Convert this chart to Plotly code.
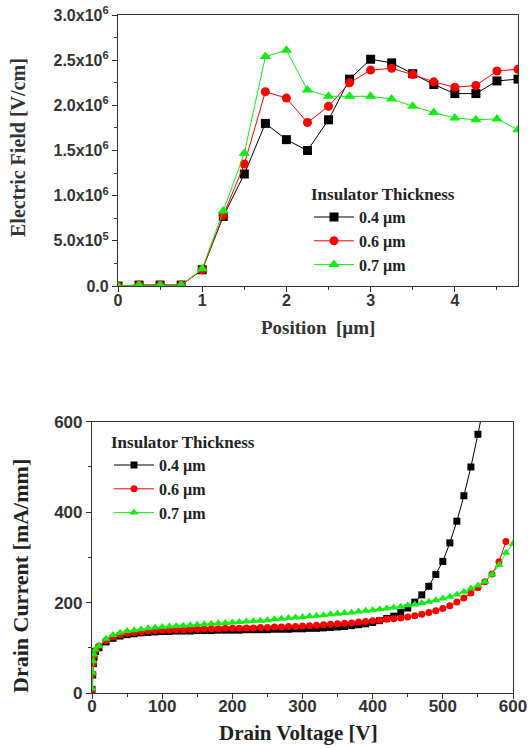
import plotly.graph_objects as go

# ---------------- Top chart data: Electric field vs position ----------------
position = [0, 0.25, 0.5, 0.75, 1.0, 1.25, 1.5, 1.75, 2.0, 2.25, 2.5, 2.75,
            3.0, 3.25, 3.5, 3.75, 4.0, 4.25, 4.5, 4.75]
field_04 = [0.0, 0.01e6, 0.01e6, 0.01e6, 0.18e6, 0.77e6, 1.24e6, 1.80e6, 1.62e6, 1.50e6,
            1.84e6, 2.29e6, 2.51e6, 2.47e6, 2.35e6, 2.23e6, 2.13e6, 2.13e6, 2.27e6, 2.29e6]
field_06 = [0.0, 0.01e6, 0.01e6, 0.01e6, 0.18e6, 0.78e6, 1.35e6, 2.15e6, 2.08e6, 1.81e6,
            1.99e6, 2.25e6, 2.39e6, 2.41e6, 2.34e6, 2.26e6, 2.20e6, 2.22e6, 2.38e6, 2.40e6]
field_07 = [0.0, 0.01e6, 0.01e6, 0.01e6, 0.19e6, 0.83e6, 1.47e6, 2.54e6, 2.61e6, 2.17e6,
            2.10e6, 2.10e6, 2.10e6, 2.07e6, 1.99e6, 1.92e6, 1.86e6, 1.84e6, 1.85e6, 1.73e6]
top_x_ticks = [0, 1, 2, 3, 4]
top_y_tickvals = [0, 0.5e6, 1.0e6, 1.5e6, 2.0e6, 2.5e6, 3.0e6]
top_y_ticktext = ["0.0", "5.0x10<sup>5</sup>", "1.0x10<sup>6</sup>", "1.5x10<sup>6</sup>",
                  "2.0x10<sup>6</sup>", "2.5x10<sup>6</sup>", "3.0x10<sup>6</sup>"]

# ---------------- Bottom chart data: Drain current vs drain voltage ----------------
v_04 = [0, 1, 2, 3, 5, 10, 20, 30, 40, 50, 60, 70, 80, 90, 100, 110, 120, 130, 140, 150,
        160, 170, 180, 190, 200, 210, 220, 230, 240, 250, 260, 270, 280, 290, 300, 310,
        320, 330, 340, 350, 360, 370, 380, 390, 400, 410, 420, 430, 440, 450, 460, 470,
        480, 490, 500, 510, 520, 530, 540, 550, 560]
i_04 = [8, 40, 65, 80, 92, 100, 113, 121, 126, 129, 131, 133, 134, 135, 136, 136, 137, 137,
        137, 138, 138, 138, 139, 139, 139, 139, 140, 140, 140, 140, 141, 141, 141, 142, 142,
        143, 143, 144, 145, 146, 147, 149, 151, 153, 156, 160, 165, 170, 178, 188, 201, 217,
        236, 262, 291, 332, 380, 436, 500, 572, 650]
v_06 = [0, 1, 2, 3, 5, 10, 20, 30, 40, 50, 60, 70, 80, 90, 100, 110, 120, 130, 140, 150,
        160, 170, 180, 190, 200, 210, 220, 230, 240, 250, 260, 270, 280, 290, 300, 310,
        320, 330, 340, 350, 360, 370, 380, 390, 400, 410, 420, 430, 440, 450, 460, 470,
        480, 490, 500, 510, 520, 530, 540, 550, 560, 570, 580, 590]
i_06 = [8, 42, 66, 82, 94, 104, 116, 124, 129, 132, 134, 136, 137, 138, 139, 139, 140, 140,
        141, 141, 142, 142, 142, 143, 143, 143, 144, 144, 145, 145, 146, 146, 147, 147, 148,
        149, 150, 151, 152, 153, 154, 155, 157, 158, 160, 161, 163, 164, 166, 168, 171, 174,
        178, 182, 187, 193, 201, 210, 221, 233, 246, 263, 290, 335]
v_07 = [0, 1, 2, 3, 5, 10, 20, 30, 40, 50, 60, 70, 80, 90, 100, 110, 120, 130, 140, 150,
        160, 170, 180, 190, 200, 210, 220, 230, 240, 250, 260, 270, 280, 290, 300, 310,
        320, 330, 340, 350, 360, 370, 380, 390, 400, 410, 420, 430, 440, 450, 460, 470,
        480, 490, 500, 510, 520, 530, 540, 550, 560, 570, 580, 590, 600]
i_07 = [10, 45, 70, 85, 96, 104, 120, 128, 133, 137, 139, 141, 143, 145, 146, 147, 148, 149,
        150, 151, 152, 153, 154, 155, 156, 157, 158, 159, 160, 161, 163, 164, 166, 167, 168,
        170, 171, 172, 174, 175, 177, 178, 180, 182, 183, 185, 187, 189, 191, 194, 196, 199,
        202, 205, 209, 213, 218, 224, 231, 238, 246, 262, 283, 310, 330]
bot_x_ticks = [0, 100, 200, 300, 400, 500, 600]
bot_y_ticks = [0, 200, 400, 600]

labels = ["0.4 \u00b5m", "0.6 \u00b5m", "0.7 \u00b5m"]
colors = ["#000000", "#ff0000", "#11ee11"]
symbols = ["square", "circle", "triangle-up"]

fig = go.Figure()

top_series = [field_04, field_06, field_07]
for k in range(3):
    fig.add_trace(go.Scatter(
        x=position, y=top_series[k], mode="lines+markers", name=labels[k],
        line=dict(color=colors[k], width=1),
        marker=dict(symbol=symbols[k], size=10 if k == 2 else 9, color=colors[k]),
        xaxis="x", yaxis="y", legend="legend"))

bot_x = [v_04, v_06, v_07]
bot_y = [i_04, i_06, i_07]
for k in range(3):
    fig.add_trace(go.Scatter(
        x=bot_x[k], y=bot_y[k], mode="lines+markers", name=labels[k],
        line=dict(color=colors[k], width=1),
        marker=dict(symbol=symbols[k], size=8 if k == 2 else 7, color=colors[k]),
        xaxis="x2", yaxis="y2", legend="legend2"))

SANS = "Liberation Sans"
SERIF = "Liberation Serif"
axis_common = dict(showline=True, linecolor="#333333", linewidth=1.2, mirror=True,
                   showgrid=False, zeroline=False, ticks="outside", ticklen=5,
                   tickcolor="#333333", automargin=False)
minor_style = dict(ticks="outside", ticklen=3, tickcolor="#333333")

W, H = 530, 748
legend_font = dict(family=SERIF, size=16, color="#222222", weight="bold")
title_font = dict(family=SERIF, size=17, color="#222222", weight="bold")
fig.update_layout(
    width=W, height=H, margin=dict(l=0, r=0, t=0, b=0, autoexpand=False),
    paper_bgcolor="white", plot_bgcolor="white", showlegend=True,
    xaxis=dict(domain=[118 / W, 518 / W], range=[0, 4.75], tickvals=top_x_ticks,
               minor=dict(dtick=0.5, **minor_style), anchor="y", ticklabelstandoff=-5,
               tickfont=dict(family=SANS, size=16, color="#333333", weight="bold"),
               **axis_common),
    yaxis=dict(domain=[1 - 286 / H, 1 - 15 / H], range=[0, 3.0e6],
               tickvals=top_y_tickvals, ticktext=top_y_ticktext,
               minor=dict(dtick=0.25e6, **minor_style), anchor="x",
               tickfont=dict(family=SANS, size=16, color="#333333", weight="bold"),
               **axis_common),
    xaxis2=dict(domain=[92 / W, 513 / W], range=[0, 600], tickvals=bot_x_ticks,
                minor=dict(dtick=50, **minor_style), anchor="y2", ticklabelstandoff=-8,
                tickfont=dict(family=SANS, size=17, color="#333333", weight="bold"),
                **axis_common),
    yaxis2=dict(domain=[1 - 693 / H, 1 - 421.7 / H], range=[0, 600], tickvals=bot_y_ticks,
                minor=dict(dtick=100, **minor_style), anchor="x2",
                tickfont=dict(family=SANS, size=17, color="#333333", weight="bold"),
                **axis_common),
    legend=dict(x=309 / W, y=1 - 178 / H, xanchor="left", yanchor="top",
                bgcolor="rgba(0,0,0,0)", tracegroupgap=0, itemwidth=40,
                title=dict(text="Insulator Thickness", font=title_font),
                font=legend_font),
    legend2=dict(x=109 / W, y=1 - 426 / H, xanchor="left", yanchor="top",
                 bgcolor="rgba(0,0,0,0)", tracegroupgap=0, itemwidth=40,
                 title=dict(text="Insulator Thickness", font=title_font),
                 font=legend_font),
    annotations=[
        dict(text="Position  [\u00b5m]", x=318 / W, y=1 - 327 / H, xref="paper", yref="paper",
             xanchor="center", yanchor="middle", showarrow=False,
             font=dict(family=SERIF, size=19, color="#333333", weight="bold")),
        dict(text="Electric Field [V/cm]", x=18 / W, y=1 - 148 / H, xref="paper", yref="paper",
             xanchor="center", yanchor="middle", showarrow=False, textangle=-90,
             font=dict(family=SERIF, size=20, color="#333333", weight="bold")),
        dict(text="Drain Voltage [V]", x=298 / W, y=1 - 733 / H, xref="paper", yref="paper",
             xanchor="center", yanchor="middle", showarrow=False,
             font=dict(family=SERIF, size=21, color="#222222", weight="bold")),
        dict(text="Drain Current [mA/mm]", x=20 / W, y=1 - 576 / H, xref="paper", yref="paper",
             xanchor="center", yanchor="middle", showarrow=False, textangle=-90,
             font=dict(family=SERIF, size=22, color="#222222", weight="bold")),
    ],
)

fig.write_html("out.html")
